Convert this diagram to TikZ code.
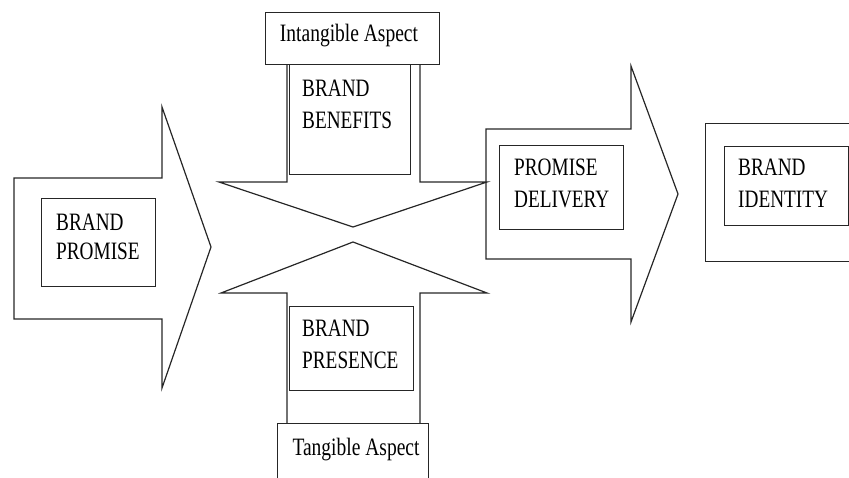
\documentclass[tikz,border=0pt]{standalone}
\usepackage{fontspec}
\newfontfamily\condserif[FakeStretch=0.77]{Liberation Serif}
\newfontfamily\aspectserif[FakeStretch=0.78]{Liberation Serif}
\tikzset{
  shapeline/.style={draw=black!85, line width=1.2pt, line join=miter},
  box/.style={draw=black!85, line width=1.2pt, fill=white, inner sep=0pt, anchor=north west},
  lbl/.style={inner sep=0pt, align=left, anchor=base west, font=\condserif\fontsize{25}{32}\selectfont},
  aspect/.style={inner sep=0pt, anchor=base, font=\aspectserif\fontsize{25}{28}\selectfont},
}
\begin{document}
\begin{tikzpicture}[x=1pt,y=-1pt]
\useasboundingbox (0,0) rectangle (849,478);
\clip (0,0) rectangle (849,478);
% left block arrow
\draw[shapeline] (14,178) -- (162,178) -- (162,107) -- (211,247) -- (162,388) -- (162,319) -- (14,319) -- cycle;
% right block arrow
\draw[shapeline] (486,129) -- (631,129) -- (631,66) -- (678,194) -- (631,322) -- (631,259) -- (486,259) -- cycle;
% downward arrow
\draw[shapeline] (287,64) -- (287,182) -- (219,182) -- (353,227) -- (487,182) -- (420,182) -- (420,64);
% upward arrow
\draw[shapeline] (287,423) -- (287,293) -- (221,293) -- (353,242) -- (487,293) -- (420,293) -- (420,423);
% boxes
\node[box, minimum width=174pt, minimum height=52pt] (intbox) at (265,12) {};
\node[box, minimum width=121pt, minimum height=110pt] (benbox) at (289,64) {};
\node[box, minimum width=124pt, minimum height=84pt] (presbox) at (289,306) {};
\node[box, minimum width=151pt, minimum height=70pt] (tanbox) at (277,423) {};
\node[box, minimum width=114pt, minimum height=88pt] (prombox) at (41,198) {};
\node[box, minimum width=124pt, minimum height=84pt] (delbox) at (499,145) {};
\node[box, minimum width=160pt, minimum height=138pt] (idouter) at (705,123) {};
\node[box, minimum width=124pt, minimum height=79pt] (idinner) at (724,146) {};
% texts (anchor = baseline of the last line)
\node[aspect] (intlbl) at (349,42) {Intangible Aspect};
\node[aspect] (tanlbl) at (356,455) {Tangible Aspect};
\node[lbl, font=\condserif\fontsize{25}{29}\selectfont] (promlbl) at (56,260) {BRAND\\PROMISE};
\node[lbl] (benlbl) at (302,129) {BRAND\\BENEFITS};
\node[lbl] (preslbl) at (302,368) {BRAND\\PRESENCE};
\node[lbl] (dellbl) at (514,208) {PROMISE\\DELIVERY};
\node[lbl] (idlbl) at (738,208) {BRAND\\IDENTITY};
\end{tikzpicture}
\end{document}
